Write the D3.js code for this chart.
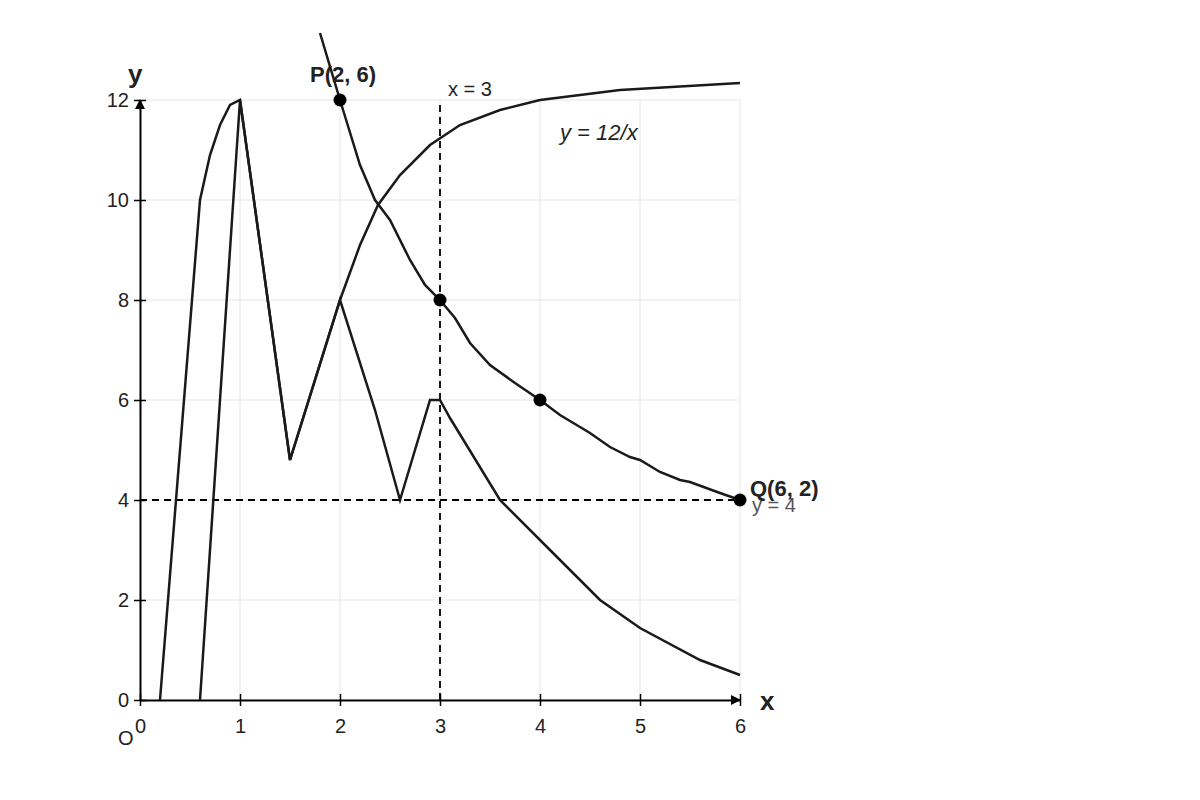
<!DOCTYPE html>
<html><head><meta charset="utf-8">
<script src="https://cdn.jsdelivr.net/npm/d3@7"></script>
<style>body{margin:0;background:#fff}text{font-family:"Liberation Sans",Arial,sans-serif}</style>
</head><body><svg id="c" width="1200" height="800"></svg>
<script>
const xTicks=[0,1,2,3,4,5,6];
const yTicks=[0,2,4,6,8,10,12];
const upperCurve=[[1.8,13.34],[2,12],[2.2,10.7],[2.35,10],[2.5,9.6],[2.7,8.8],[2.85,8.3],[3,8],[3.15,7.64],[3.3,7.14],[3.5,6.7],[3.75,6.34],[4,6],[4.2,5.7],[4.5,5.34],[4.7,5.06],[4.9,4.86],[5,4.8],[5.2,4.56],[5.4,4.4],[5.5,4.36],[5.8,4.14],[6,4]];
const risingCurve=[[0.2,0],[0.6,10],[0.7,10.9],[0.8,11.5],[0.9,11.9],[1,12],[1.5,4.8],[2,8],[2.2,9.1],[2.38,9.9],[2.6,10.5],[2.9,11.1],[3.2,11.5],[3.6,11.8],[4,12],[4.8,12.2],[6,12.34]];
const lowerCurve=[[0.6,0],[1,12],[1.5,4.8],[2,8],[2.35,5.8],[2.6,4],[2.9,6],[3,6],[3.1,5.64],[3.6,4],[4.1,3],[4.6,2],[5,1.44],[5.6,0.8],[6,0.5]];
const dots=[[2,12],[3,8],[4,6],[6,4]];
const svg=d3.select("#c");
const x=d3.scaleLinear().domain([0,6]).range([140,740]);
const y=d3.scaleLinear().domain([0,12]).range([700,100]);
const g=svg.append("g");
xTicks.forEach(t=>g.append("line").attr("x1",x(t)).attr("x2",x(t)).attr("y1",y(0)).attr("y2",y(12)).attr("stroke","#e6e6e6"));
yTicks.forEach(t=>g.append("line").attr("x1",x(0)).attr("x2",x(6)).attr("y1",y(t)).attr("y2",y(t)).attr("stroke","#e6e6e6"));
const xa=svg.append("g").attr("transform","translate(0,700)").call(d3.axisBottom(x).tickValues(xTicks).tickSize(6).tickSizeOuter(0).tickFormat(d3.format("d")));
xa.selectAll(".tick line").attr("y1",-6).attr("y2",6).attr("stroke-width",1.5);
const ya=svg.append("g").attr("transform","translate(140,0)").call(d3.axisLeft(y).tickValues(yTicks).tickSize(6).tickSizeOuter(0));
ya.selectAll(".tick line").attr("x1",-6).attr("x2",6).attr("stroke-width",1.5);
[xa,ya].forEach(a=>{a.select(".domain").attr("stroke-width",2);a.selectAll("text").attr("font-size",20).attr("fill","#222");});
xa.selectAll("text").attr("dy","1.2em");
ya.selectAll("text").attr("dx","-2");
svg.append("path").attr("d","M731,695L731,705L741,700Z").attr("fill","#000");
svg.append("path").attr("d","M135,109L145,109L140,99Z").attr("fill","#000");
const line=d3.line().x(d=>x(d[0])).y(d=>y(d[1]));
svg.append("line").attr("x1",x(0)).attr("x2",x(6)).attr("y1",y(4)).attr("y2",y(4)).attr("stroke","#000").attr("stroke-width",1.8).attr("stroke-dasharray","7,5");
svg.append("line").attr("x1",x(3)).attr("x2",x(3)).attr("y1",y(0)).attr("y2",y(12)).attr("stroke","#000").attr("stroke-width",1.8).attr("stroke-dasharray","7,5");
[upperCurve,risingCurve,lowerCurve].forEach(c=>svg.append("path").attr("d",line(c)).attr("fill","none").attr("stroke","#1a1a1a").attr("stroke-width",2.5));
dots.forEach(d=>svg.append("circle").attr("cx",x(d[0])).attr("cy",y(d[1])).attr("r",6.5).attr("fill","#000"));
const T=(t,X,Y,s,o={})=>{const e=svg.append("text").attr("x",X).attr("y",Y).attr("font-size",s).text(t).attr("fill","#222");for(const k in o)e.attr(k,o[k]);return e;};
T("y",128,83,26,{"font-weight":"bold"});
T("x",760,710,26,{"font-weight":"bold"});
T("O",118,745,20);
T("P(2, 6)",310,82,22,{"font-weight":"bold"});
T("y = 4",752,512,20,{"fill":"#555"});
T("Q(6, 2)",750,496,22,{"font-weight":"bold"});
T("x = 3",448,96,20);
T("y = 12/x",560,140,22,{"font-style":"italic"});
</script></body></html>
